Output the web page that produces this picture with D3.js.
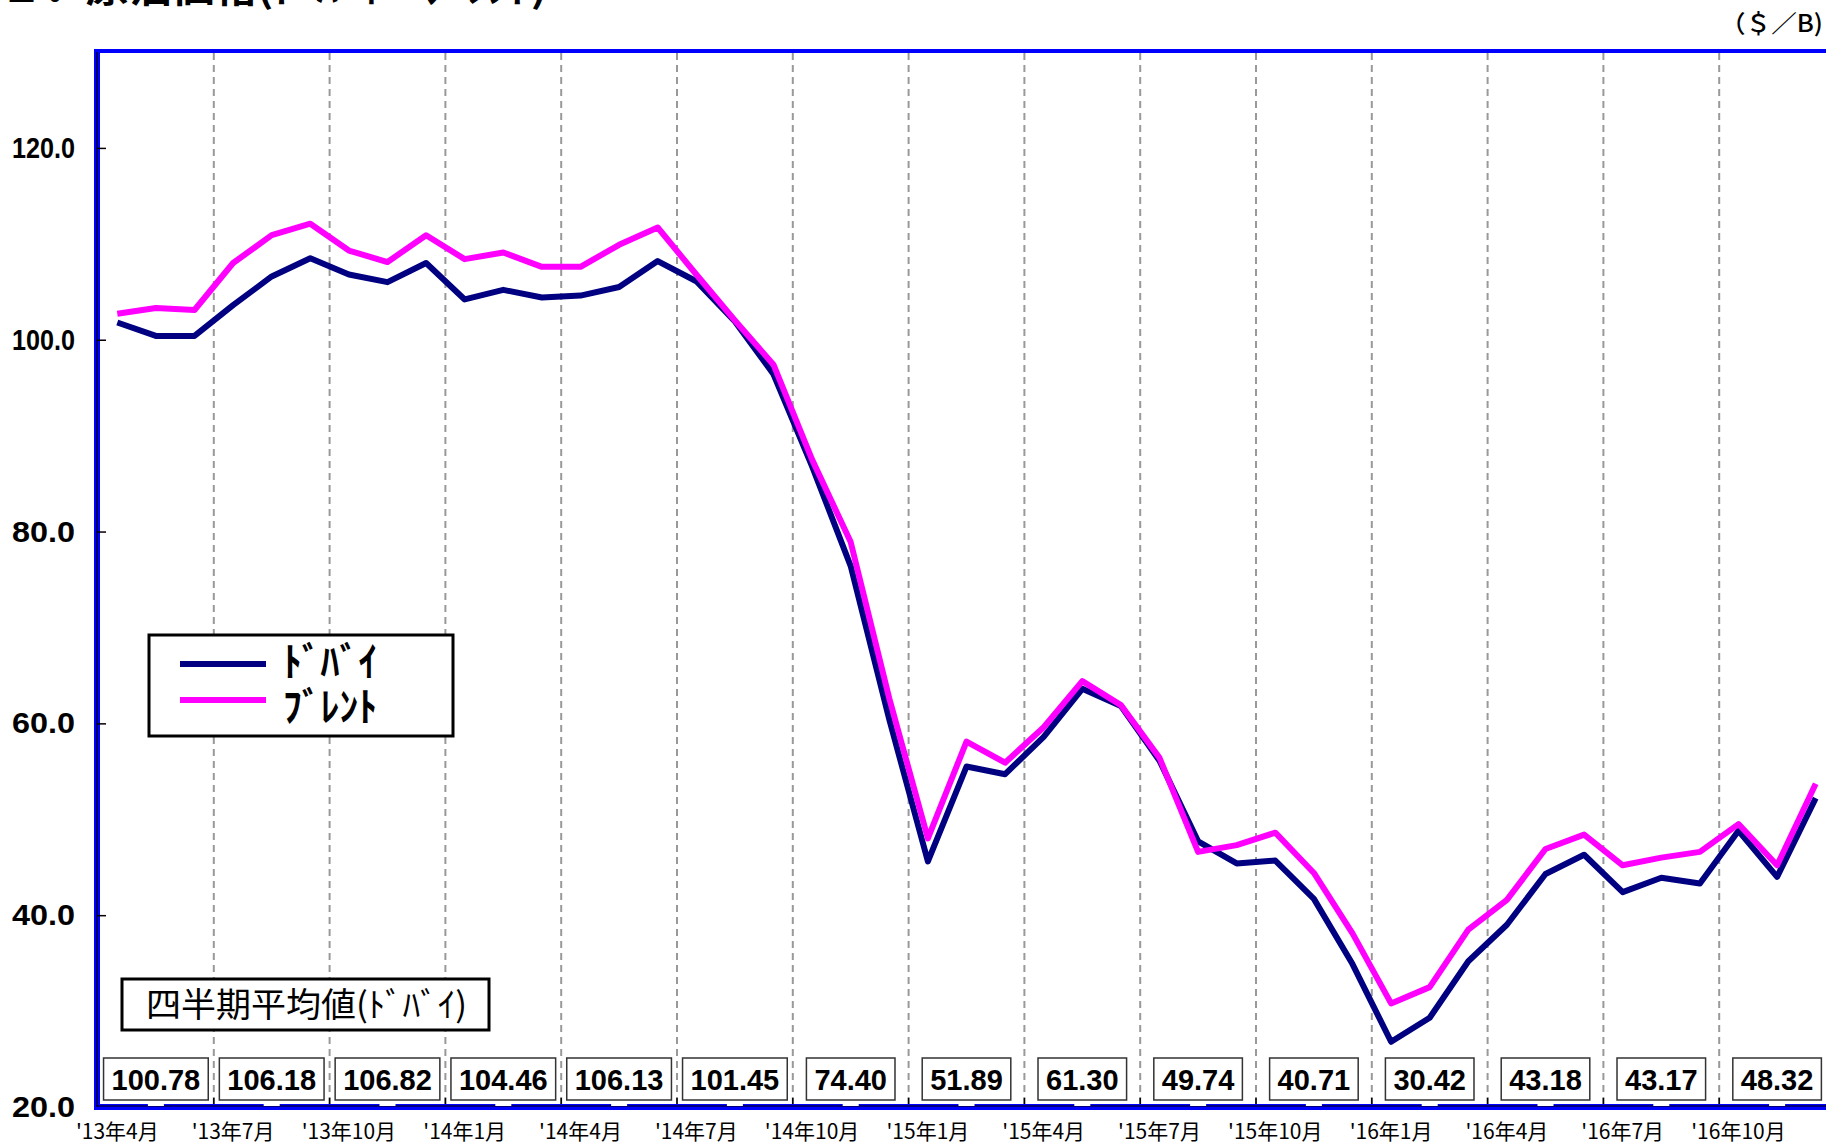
<!DOCTYPE html>
<html>
<head>
<meta charset="utf-8">
<script src="https://cdn.jsdelivr.net/npm/d3@7/dist/d3.min.js"></script>
<style>
  html, body { margin: 0; padding: 0; background: #fff; overflow: hidden; }
  svg { display: block; }
</style>
</head>
<body>
<div id="chart"></div>
<script>
// 月次カテゴリ ('13年4月 〜 '16年12月)
const months = [
  "'13年4月", "'13年5月", "'13年6月", "'13年7月", "'13年8月", "'13年9月",
  "'13年10月", "'13年11月", "'13年12月", "'14年1月", "'14年2月", "'14年3月",
  "'14年4月", "'14年5月", "'14年6月", "'14年7月", "'14年8月", "'14年9月",
  "'14年10月", "'14年11月", "'14年12月", "'15年1月", "'15年2月", "'15年3月",
  "'15年4月", "'15年5月", "'15年6月", "'15年7月", "'15年8月", "'15年9月",
  "'15年10月", "'15年11月", "'15年12月", "'16年1月", "'16年2月", "'16年3月",
  "'16年4月", "'16年5月", "'16年6月", "'16年7月", "'16年8月", "'16年9月",
  "'16年10月", "'16年11月", "'16年12月"
];

const dubai = [
  101.8, 100.4, 100.4, 103.6, 106.6, 108.5, 106.8, 106.0, 108.0, 104.2, 105.2, 104.4,
  104.6, 105.5, 108.2, 106.1, 101.9, 96.4, 86.8, 76.4, 60.4, 45.6, 55.5, 54.7,
  58.6, 63.6, 61.8, 56.1, 47.7, 45.4, 45.7, 41.7, 34.9, 26.8, 29.3, 35.2,
  39.0, 44.3, 46.3, 42.4, 43.9, 43.3, 48.8, 44.0, 52.2
];

const brent = [
  102.7, 103.3, 103.1, 108.0, 110.9, 112.1, 109.3, 108.1, 110.9, 108.4, 109.1, 107.6,
  107.6, 109.9, 111.7, 106.8, 102.0, 97.4, 87.5, 78.9, 62.6, 48.0, 58.1, 55.9,
  59.6, 64.4, 61.9, 56.4, 46.6, 47.3, 48.6, 44.4, 38.1, 30.8, 32.5, 38.5,
  41.6, 46.9, 48.4, 45.2, 46.0, 46.6, 49.5, 45.2, 53.7
];

// 四半期平均値(ドバイ)
const quarterAvg = [100.78, 106.18, 106.82, 104.46, 106.13, 101.45, 74.40, 51.89,
  61.30, 49.74, 40.71, 30.42, 43.18, 43.17, 48.32];

const yTicks = [20, 40, 60, 80, 100, 120];
const seriesNames = ['ﾄﾞﾊﾞｲ', 'ﾌﾞﾚﾝﾄ'];
const seriesColors = ['#000080', '#ff00ff'];

const chartW = 1826;
const chartH = 1145;
const plotLeft = 97;
const plotTop = 51;
const plotBottom = 1107;
const bandW = 38.6;

const jp = "'Noto Sans CJK JP', sans-serif";
const num = "'Liberation Sans', Arial, sans-serif";

const svg = d3.select('#chart').append('svg')
  .attr('width', chartW)
  .attr('height', chartH);

const x = d3.scaleBand()
  .domain(months)
  .range([plotLeft + 1, plotLeft + 1 + months.length * bandW]);

const y = d3.scaleLinear()
  .domain([20, 130])
  .range([plotBottom, plotTop + 1]);

const bw = x.bandwidth();

// タイトル (上端で切れている)
svg.append('text')
  .attr('x', 0)
  .attr('y', 2)
  .attr('font-family', jp)
  .attr('font-weight', 'bold')
  .attr('font-size', 38)
  .attr('textLength', 547)
  .attr('lengthAdjust', 'spacingAndGlyphs')
  .text('２．原油価格(ﾄﾞﾊﾞｲ・ﾌﾞﾚﾝﾄ)');

// 単位
svg.append('text')
  .attr('x', 1823)
  .attr('y', 32)
  .attr('text-anchor', 'end')
  .attr('font-family', jp)
  .attr('font-weight', 500)
  .attr('font-size', 24)
  .attr('textLength', 103)
  .attr('lengthAdjust', 'spacingAndGlyphs')
  .text('（＄／B)');

// 四半期の区切り (破線)
const qIdx = d3.range(3, months.length, 3);
svg.append('g').selectAll('line')
  .data(qIdx)
  .join('line')
  .attr('x1', i => x(months[i]))
  .attr('x2', i => x(months[i]))
  .attr('y1', plotTop + 2)
  .attr('y2', plotBottom - 2)
  .attr('stroke', '#999')
  .attr('stroke-width', 2)
  .attr('stroke-dasharray', '7,5');

// 区切りの目盛 (下端)
svg.append('g').selectAll('line')
  .data(qIdx)
  .join('line')
  .attr('x1', i => x(months[i]))
  .attr('x2', i => x(months[i]))
  .attr('y1', plotBottom - 9)
  .attr('y2', plotBottom)
  .attr('stroke', '#000')
  .attr('stroke-width', 1.5);

// 系列線
const line = d3.line()
  .x((d, i) => x(months[i]) + bw / 2)
  .y(d => y(d));

[dubai, brent].forEach((s, k) => {
  svg.append('path')
    .datum(s)
    .attr('fill', 'none')
    .attr('stroke', seriesColors[k])
    .attr('stroke-width', 6)
    .attr('stroke-linejoin', 'round')
    .attr('d', line);
});

// 枠
svg.append('line')
  .attr('x1', plotLeft - 3).attr('x2', chartW)
  .attr('y1', plotTop).attr('y2', plotTop)
  .attr('stroke', '#0000ff').attr('stroke-width', 4);
svg.append('line')
  .attr('x1', plotLeft).attr('x2', plotLeft)
  .attr('y1', plotTop - 2).attr('y2', plotBottom + 3)
  .attr('stroke', '#0000ff').attr('stroke-width', 6);
svg.append('line')
  .attr('x1', plotLeft - 3).attr('x2', chartW)
  .attr('y1', plotBottom).attr('y2', plotBottom)
  .attr('stroke', '#0000ff').attr('stroke-width', 6);
svg.append('line')
  .attr('x1', plotLeft).attr('x2', plotLeft)
  .attr('y1', plotTop + 1).attr('y2', plotBottom)
  .attr('stroke', '#000').attr('stroke-width', 1.2);
svg.append('line')
  .attr('x1', plotLeft).attr('x2', chartW)
  .attr('y1', plotBottom - 1).attr('y2', plotBottom - 1)
  .attr('stroke', '#000').attr('stroke-width', 1.2);

// 四半期平均値ボックス
const qg = svg.append('g');
quarterAvg.forEach((v, q) => {
  const cx = x(months[q * 3]) + bw * 1.5;
  const g = qg.append('g');
  const rect = g.append('rect');
  const t = g.append('text')
    .attr('x', cx)
    .attr('y', 1080)
    .attr('text-anchor', 'middle')
    .attr('dominant-baseline', 'central')
    .attr('font-family', num)
    .attr('font-weight', 'bold')
    .attr('font-size', 29)
    .text(d3.format('.2f')(v));
  const w = t.node().getComputedTextLength() + 16;
  rect.attr('x', cx - w / 2)
    .attr('y', 1058)
    .attr('width', w)
    .attr('height', 42)
    .attr('fill', '#fff')
    .attr('stroke', '#333')
    .attr('stroke-width', 1.5);
  g.append('rect')
    .attr('x', cx - 8)
    .attr('y', plotBottom - 4)
    .attr('width', 16)
    .attr('height', 3)
    .attr('fill', '#fff');
});

// Y軸
const yAxis = svg.append('g')
  .attr('transform', `translate(${plotLeft},0)`)
  .call(d3.axisLeft(y)
    .tickValues(yTicks)
    .tickSize(-9)
    .tickPadding(22)
    .tickFormat(d3.format('.1f')));
yAxis.select('.domain').remove();
yAxis.selectAll('.tick line').attr('stroke', '#000').attr('stroke-width', 1.5);
yAxis.selectAll('.tick').filter(d => d === 20).select('line').remove();
yAxis.selectAll('.tick text')
  .attr('font-family', num)
  .attr('font-weight', 'bold')
  .attr('font-size', 30)
  .attr('fill', '#000')
  .attr('textLength', 63)
  .attr('lengthAdjust', 'spacingAndGlyphs');

// X軸ラベル (四半期の初月)
const xAxis = svg.append('g')
  .attr('transform', `translate(0,${plotBottom})`)
  .call(d3.axisBottom(x)
    .tickValues(months.filter((m, i) => i % 3 === 0))
    .tickSize(0)
    .tickPadding(17));
xAxis.select('.domain').remove();
xAxis.selectAll('.tick text')
  .attr('font-family', jp)
  .attr('font-size', 21)
  .attr('fill', '#000');

// 凡例
const lg = svg.append('g');
lg.append('rect')
  .attr('x', 149).attr('y', 635)
  .attr('width', 304).attr('height', 101)
  .attr('fill', '#fff')
  .attr('stroke', '#000')
  .attr('stroke-width', 3);
seriesNames.forEach((name, k) => {
  const ly = 664 + k * 36;
  lg.append('line')
    .attr('x1', 180).attr('x2', 266)
    .attr('y1', ly).attr('y2', ly)
    .attr('stroke', seriesColors[k])
    .attr('stroke-width', 6);
  lg.append('text')
    .attr('x', 283)
    .attr('y', 676 + k * 45)
    .attr('font-family', jp)
    .attr('font-weight', 'bold')
    .attr('font-size', 40)
    .attr('textLength', 94)
    .attr('lengthAdjust', 'spacingAndGlyphs')
    .text(name);
});

// 四半期平均値の見出し
svg.append('rect')
  .attr('x', 122).attr('y', 979)
  .attr('width', 367).attr('height', 51)
  .attr('fill', '#fff')
  .attr('stroke', '#000')
  .attr('stroke-width', 3);
svg.append('text')
  .attr('x', 146)
  .attr('y', 1017)
  .attr('font-family', jp)
  .attr('font-size', 34)
  .attr('textLength', 321)
  .attr('lengthAdjust', 'spacingAndGlyphs')
  .text('四半期平均値(ﾄﾞﾊﾞｲ)');
</script>
</body>
</html>
